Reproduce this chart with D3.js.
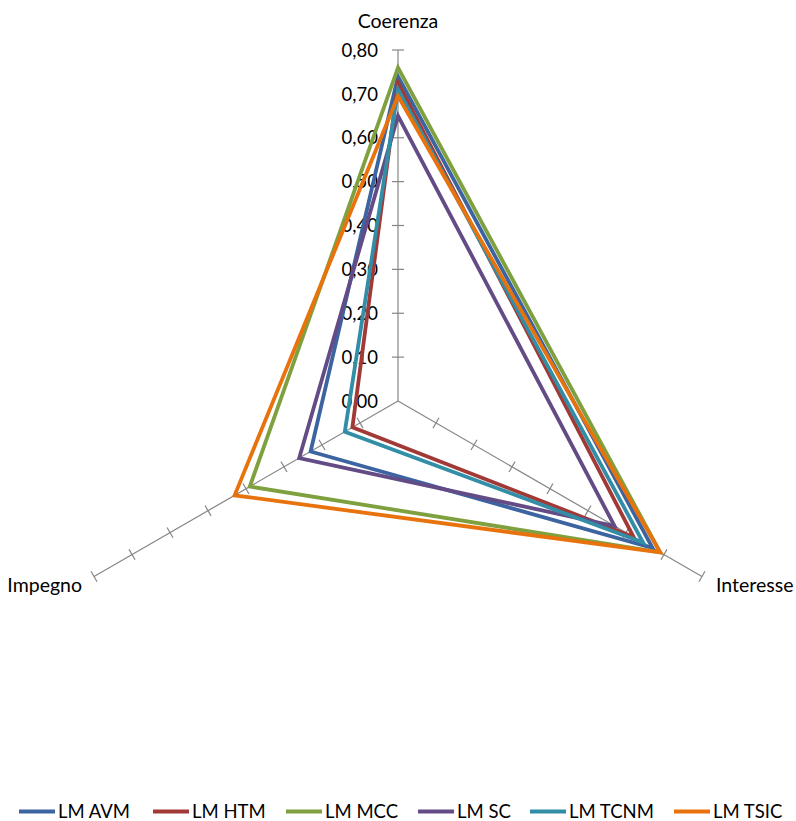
<!DOCTYPE html>
<html><head><meta charset="utf-8">
<script src="https://cdn.jsdelivr.net/npm/d3@7"></script>
<style>body{margin:0;background:#fff}svg{display:block}text{font-family:Lato,"Open Sans",sans-serif;fill:#000}</style>
</head><body>
<svg id="c" width="796" height="821"></svg>
<script>
const categories = ["Coerenza", "Interesse", "Impegno"];
const seriesNames = ["LM AVM", "LM HTM", "LM MCC", "LM SC", "LM TCNM", "LM TSIC"];
const avm  = [0.74, 0.67, 0.23];
const htm  = [0.725, 0.62, 0.12];
const mcc  = [0.76, 0.69, 0.39];
const sc   = [0.65, 0.57, 0.26];
const tcnm = [0.71, 0.645, 0.14];
const tsic = [0.695, 0.69, 0.43];
const tickValues = [0, 0.1, 0.2, 0.3, 0.4, 0.5, 0.6, 0.7, 0.8];
const tickLabels = ["0,00","0,10","0,20","0,30","0,40","0,50","0,60","0,70","0,80"];
const colors = ["#3B64A0", "#A13A36", "#7FA03E", "#634C85", "#318EA6", "#E8730D"];

const seriesValues = [avm, htm, mcc, sc, tcnm, tsic];
const svg = d3.select("#c");
const cx = 398, cy = 401, R = 351;
const r = d3.scaleLinear().domain([0, 0.8]).range([0, R]);
const angle = d3.scalePoint().domain(categories).range([-Math.PI/2, -Math.PI/2 + 2*Math.PI*2/3]);
const pt = (cat, v) => [cx + r(v)*Math.cos(angle(cat)), cy + r(v)*Math.sin(angle(cat))];

const g = svg.append("g");
// axes
categories.forEach(cat => {
  const a = angle(cat);
  const e = pt(cat, 0.8);
  g.append("line").attr("x1", cx).attr("y1", cy).attr("x2", e[0]).attr("y2", e[1])
    .attr("stroke", "#868686").attr("stroke-width", 1.2);
  const px = -Math.sin(a), py = Math.cos(a);
  tickValues.slice(1).forEach(v => {
    const p = pt(cat, v);
    g.append("line").attr("x1", p[0]-px*6).attr("y1", p[1]-py*6).attr("x2", p[0]+px*6).attr("y2", p[1]+py*6)
      .attr("stroke", "#868686").attr("stroke-width", 1.2);
  });
});
// tick labels on Coerenza axis
tickValues.forEach((v, i) => {
  const p = pt(categories[0], v);
  g.append("text").attr("x", 378).attr("y", p[1]).attr("dy", "0.36em")
    .attr("text-anchor", "end").attr("font-size", 18.5).text(tickLabels[i]);
});
// category labels
const e0 = pt(categories[0], 0.8);
g.append("text").attr("x", e0[0]).attr("y", 28).attr("text-anchor", "middle").attr("font-size", 19.5).text(categories[0]);
g.append("text").attr("x", 716).attr("y", 585).attr("dy", "0.36em").attr("text-anchor", "start").attr("font-size", 19.5).text(categories[1]);
g.append("text").attr("x", 82).attr("y", 585).attr("dy", "0.36em").attr("text-anchor", "end").attr("font-size", 19.5).text(categories[2]);

// series
const line = d3.line().curve(d3.curveLinearClosed);
seriesValues.forEach((vals, i) => {
  g.append("path").attr("d", line(categories.map((c, k) => pt(c, vals[k]))))
    .attr("fill", "none").attr("stroke", colors[i]).attr("stroke-width", 3.8)
    .attr("stroke-linejoin", "miter").attr("stroke-miterlimit", 10);
});

// legend
const legX = [19, 153, 286, 418, 530, 674];
const lg = svg.append("g");
seriesNames.forEach((n, i) => {
  lg.append("line").attr("x1", legX[i]).attr("x2", legX[i]+36).attr("y1", 811.5).attr("y2", 811.5)
    .attr("stroke", colors[i]).attr("stroke-width", 3.8);
  lg.append("text").attr("x", legX[i]+39).attr("y", 811.5).attr("dy", "0.36em").attr("font-size", 18.5).text(n);
});
</script>
</body></html>
